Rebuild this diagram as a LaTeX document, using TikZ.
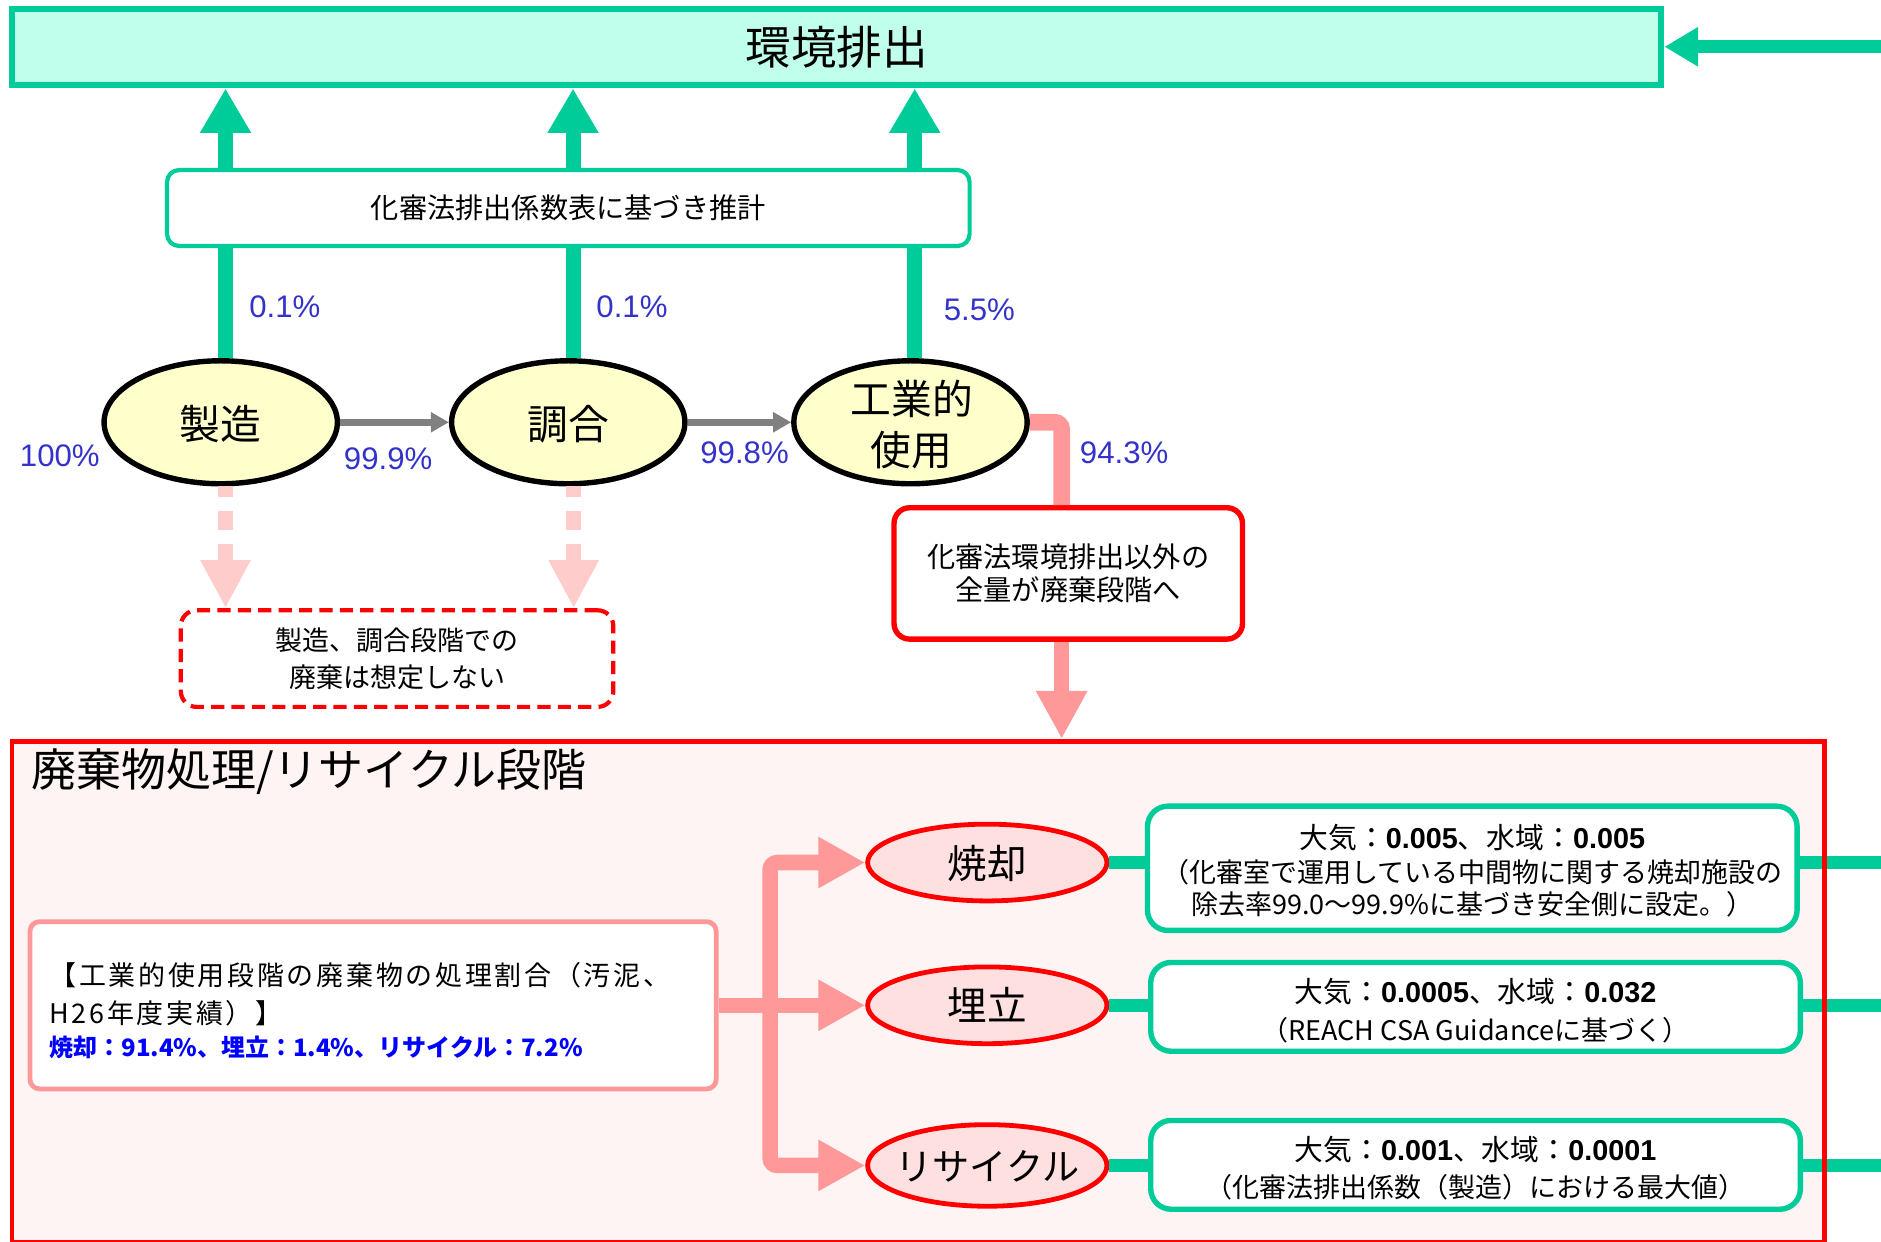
\documentclass[tikz,border=0pt]{standalone}
\usepackage{fontspec}
\setmainfont{Noto Sans CJK JP}
\newfontfamily\lat{Liberation Sans}
\usetikzlibrary{arrows.meta,shapes.geometric}
\definecolor{tealg}{HTML}{00CC99}
\definecolor{mint}{HTML}{C0FFEB}
\definecolor{pctblue}{HTML}{3333CC}
\definecolor{ellyel}{HTML}{FFFFCC}
\definecolor{arrgray}{HTML}{808080}
\definecolor{lpink}{HTML}{FFCCCC}
\definecolor{mpink}{HTML}{FF9999}
\definecolor{bigfill}{HTML}{FFF4F4}
\definecolor{ellpink}{HTML}{FFE0E0}
\definecolor{pureblue}{HTML}{0000FF}
\definecolor{redx}{HTML}{FF0000}
\newcommand\fsz[1]{\fontsize{#1}{#1}\selectfont}
\newcommand\bnum[1]{{\lat\bfseries #1}}
\begin{document}
\begin{tikzpicture}[x=1pt,y=-1pt,
  topbox/.style={draw=tealg, line width=5pt, fill=mint, minimum width=1375pt, minimum height=63.5pt, inner sep=0pt, font=\fsz{38}},
  tealup/.style={draw=tealg, line width=12.5pt, -{Triangle[length=37pt,width=40pt]}},
  tealleft/.style={draw=tealg, line width=10.5pt, -{Triangle[length=28pt,width=31pt]}},
  midbox/.style={draw=tealg, line width=3.5pt, fill=white, rounded corners=10pt, minimum width=669pt, minimum height=63.3pt, inner sep=0pt, font=\fsz{23.5}},
  topell/.style={ellipse, draw=black, line width=4.5pt, fill=ellyel, minimum width=194.5pt, minimum height=102.5pt, inner sep=0pt},
  elltext/.style={inner sep=0pt, align=center},
  pct/.style={inner sep=0pt, anchor=west, text=pctblue, font=\lat\fsz{26}},
  grayarr/.style={draw=arrgray, line width=5.5pt, -{Triangle[length=15pt,width=16pt]}},
  pinkdash/.style={draw=lpink, line width=12pt, dash pattern=on 15.5pt off 12pt, dash phase=7pt, -{Triangle[length=40pt,width=39pt]}},
  dashbox/.style={draw=redx, line width=3.5pt, dash pattern=on 11pt off 6pt, rounded corners=13pt, fill=white, minimum width=360.5pt, minimum height=80.5pt, inner sep=0pt, align=center, font=\fontsize{22.5}{31}\selectfont},
  pinkline/.style={draw=mpink, line width=14pt, rounded corners=6pt},
  redbox/.style={draw=redx, line width=4.5pt, rounded corners=13pt, fill=white, minimum width=290.5pt, minimum height=109.5pt, inner sep=0pt, align=center, font=\fontsize{23.5}{28}\selectfont},
  pinkdown/.style={draw=mpink, line width=12.5pt, -{Triangle[length=40pt,width=40pt]}},
  leftbox/.style={draw=mpink, line width=4pt, rounded corners=8pt, fill=white, minimum width=572pt, minimum height=139.4pt, inner sep=0pt},
  pinkarr/.style={draw=mpink, line width=13pt, rounded corners=6pt, -{Triangle[length=39pt,width=40pt]}},
  botell/.style={ellipse, draw=redx, line width=4pt, fill=ellpink, minimum width=199.5pt, minimum height=64pt, inner sep=0pt},
  tealline/.style={draw=tealg, line width=11pt},
  gbox/.style={draw=tealg, line width=4.5pt, rounded corners=17pt, fill=white, minimum width=541.5pt, inner sep=0pt},
  gtext/.style={inner sep=0pt, font=\fsz{22.5}},
  gtitle/.style={inner sep=0pt, font=\fsz{24}},
  ltext/.style={inner sep=0pt, anchor=west}
]
\useasboundingbox (0,0) rectangle (1568,1034.5);
\begin{scope}
\clip (0,0) rectangle (1568,1034.5);
\fill[white] (0,0) rectangle (1568,1034.5);
% waste stage background
\fill[bigfill] (10,618) rectangle (1521,1036);

% top box
\node[topbox] (env) at (697.5,39.5) {環境排出};
\coordinate (rin) at (1580,39);
\draw[tealleft] (rin) -- (rin -| env.east);

% top ellipses
\node[topell] (seizo) at (184,352) {};
\node[topell] (chogo) at (473.7,352) {};
\node[topell] (kogyo) at (759,352) {};
\node[elltext, font=\fsz{34}] (seizoT) at (184,353.5) {製造};
\node[elltext, font=\fsz{34}] (chogoT) at (474,353.5) {調合};
\node[elltext, font=\fontsize{34}{42}\selectfont] (kogyoT) at (760,354) {工業的\\使用};

% emissions up
\draw[tealup] ([xshift=4pt]seizo.north) -- ([xshift=4pt]seizo.north |- env.south);
\draw[tealup] ([xshift=4pt]chogo.north) -- ([xshift=4pt]chogo.north |- env.south);
\draw[tealup] ([xshift=3.5pt]kogyo.north) -- ([xshift=3.5pt]kogyo.north |- env.south);
\node[midbox] (calc) at (473.75,173.4) {化審法排出係数表に基づき推計};

% flow arrows
\draw[grayarr] (seizo.east) -- (chogo.west);
\draw[grayarr] (chogo.east) -- (kogyo.west);

% percentages
\node[pct] (p1) at (207.6,256) {0.1\%};
\node[pct] (p2) at (497,256) {0.1\%};
\node[pct] (p3) at (786.5,258) {5.5\%};
\node[pct] (p4) at (16.4,380) {100\%};
\node[pct] (p5) at (286.5,382.7) {99.9\%};
\node[pct] (p6) at (583.6,377) {99.8\%};
\node[pct] (p7) at (900,377) {94.3\%};

% no waste from manufacturing / blending
\node[dashbox] (nowaste) at (331,549) {製造、調合段階での\\廃棄は想定しない};
\draw[pinkdash] ([xshift=4pt]seizo.south) -- ([xshift=4pt]seizo.south |- nowaste.north);
\draw[pinkdash] ([xshift=4.5pt]chogo.south) -- ([xshift=4.5pt]chogo.south |- nowaste.north);

% industrial use to waste
\node[redbox] (rest) at (890.5,478) {化審法環境排出以外の\\全量が廃棄段階へ};
\draw[pinkline] (kogyo.east) -| ([xshift=-5.5pt]rest.north);
\coordinate (bigtop) at (0,616);
\draw[pinkdown] ([xshift=-5.5pt]rest.south) -- ([xshift=-5.5pt]rest.south |- bigtop);

% waste stage
\node[anchor=west, inner sep=0pt, font=\fsz{37.5}] (title) at (26,643) {廃棄物処理/リサイクル段階};

\node[leftbox] (ratio) at (311,838) {};
\node[ltext, font=\fsz{22.5}\addfontfeature{LetterSpace=10}] (r1) at (41,813) {【工業的使用段階の廃棄物の処理割合（汚泥、};
\node[ltext, font=\fsz{22.5}\addfontfeature{LetterSpace=10}] (r2) at (41,845) {H26年度実績）】};
\node[ltext, font=\bfseries\fsz{20}, text=pureblue] (r3) at (41,873) {焼却：91.4\%、埋立：1.4\%、リサイクル：7.2\%};

\node[botell] (sho) at (823,719) {};
\node[botell] (ume) at (823,838) {};
\node[botell, minimum height=68pt] (rec) at (823,971.5) {};
\node[elltext, font=\fsz{33}] (shoT) at (823,720) {焼却};
\node[elltext, font=\fsz{33}] (umeT) at (823,838) {埋立};
\node[elltext, font=\fsz{31}] (recT) at (823,972.5) {リサイクル};

\coordinate (tr) at (642,838);
\draw[pinkarr] (ratio.east) -- (ume.west);
\draw[pinkarr] (tr) |- (sho.west);
\draw[pinkarr] (tr) |- (rec.west);

% emission factor boxes
\node[gbox, minimum height=103.6pt] (g1) at (1227.3,723.8) {};
\node[gbox, minimum height=74pt] (g2) at (1230,839.3) {};
\node[gbox, minimum height=74pt] (g3) at (1230,971) {};
\node[gtitle] (g1a) at (1227.3,698) {大気：\bnum{0.005}、水域：\bnum{0.005}};
\node[gtext] (g1b) at (1227.3,727) {（化審室で運用している中間物に関する焼却施設の};
\node[gtext] (g1c) at (1227.3,754) {除去率99.0～99.9\%に基づき安全側に設定。）};
\node[gtitle] (g2a) at (1230,826.7) {大気：\bnum{0.0005}、水域：\bnum{0.032}};
\node[gtext] (g2b) at (1230,858.6) {（REACH CSA Guidanceに基づく）};
\node[gtitle] (g3a) at (1230,958.6) {大気：\bnum{0.001}、水域：\bnum{0.0001}};
\node[gtext] (g3b) at (1230,989.6) {（化審法排出係数（製造）における最大値）};

\coordinate (redge) at (1580,0);
\draw[tealline] (sho.east) -- (sho.east -| g1.west);
\draw[tealline] (ume.east) -- (ume.east -| g2.west);
\draw[tealline] (rec.east) -- (rec.east -| g3.west);
\draw[tealline] (sho.east -| g1.east) -- (sho.east -| redge);
\draw[tealline] (ume.east -| g2.east) -- (ume.east -| redge);
\draw[tealline] (rec.east -| g3.east) -- (rec.east -| redge);

% waste stage border on top
\draw[redx, line width=4pt] (10,618) rectangle (1521,1036);
\end{scope}
\end{tikzpicture}
\end{document}
